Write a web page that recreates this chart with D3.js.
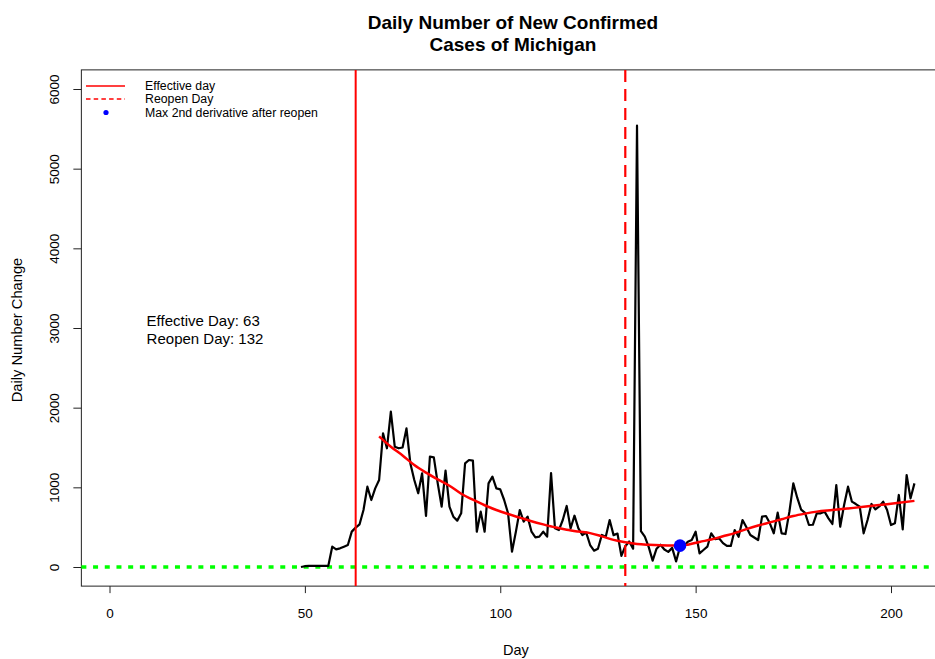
<!DOCTYPE html>
<html>
<head>
<meta charset="utf-8">
<script src="https://cdn.jsdelivr.net/npm/d3@7"></script>
<style>
  body { margin: 0; background: #fff; }
  svg { display: block; }
  text { font-family: "Liberation Sans", Arial, Helvetica, sans-serif; fill: #000; }
</style>
</head>
<body>
<svg id="chart" width="935" height="659"></svg>
<script>
// Daily new confirmed cases, Michigan, starting at day 49
const firstDay = 49;
const dailyCases = [
  0, 10, 15, 15, 15, 15, 15, 15, 255, 222,          // 49-58
  234, 255, 276, 444, 494, 536, 715, 1008, 841, 987, // 59-68
  1092, 1678, 1490, 1950, 1510, 1490, 1500, 1740, 1300, 1092, // 69-78
  925, 1176, 640, 1385, 1377, 1050, 757, 1209, 757, 632,      // 79-88
  582, 674, 1301, 1343, 1335, 443, 695, 443, 1050, 1134,      // 89-98
  987, 975, 841, 674, 192, 443, 715, 569, 632, 443,           // 99-108
  372, 381, 443, 381, 1180, 485, 464, 590, 766, 485,          // 109-118
  644, 485, 402, 431, 276, 205, 230, 402, 380, 590,           // 119-128
  400, 420, 140, 260, 320, 230, 5540, 450, 380, 250,          // 129-138
  80, 230, 280, 220, 190, 240, 70, 250, 260, 318,             // 139-148
  339, 443, 172, 213, 255, 423, 350, 360, 300, 264,           // 149-158
  264, 464, 380, 590, 498, 402, 370, 339, 632, 640,           // 159-168
  548, 423, 682, 423, 414, 695, 1050, 870, 720, 680,          // 169-178
  527, 530, 674, 674, 695, 611, 540, 1029, 506, 778,          // 179-188
  1008, 820, 790, 757, 423, 590, 791, 724, 760, 820,          // 189-198
  715, 527, 548, 904, 473, 1155, 862, 1050                    // 199-206
];

// Smoothed trend after the effective day
const fitDays   = [69, 72, 75, 78, 81, 84, 87, 90, 93, 96, 99, 102, 105, 108, 111, 114, 117, 120, 123, 126, 129, 132, 135, 138, 141, 144, 146, 148, 151, 154, 157, 160, 163, 166, 169, 172, 175, 178, 181, 185, 189, 193, 197, 201, 206];
const fitValues = [1640, 1510, 1400, 1280, 1185, 1100, 1020, 920, 845, 775, 715, 665, 620, 575, 535, 498, 468, 445, 425, 385, 340, 310, 288, 278, 272, 270, 268, 280, 315, 345, 385, 425, 475, 520, 560, 600, 640, 670, 695, 715, 735, 755, 778, 800, 830];

const effectiveDay = 63;
const reopenDay = 132;
const maxDerivDay = 146;
const maxDerivValue = 268;

const xTicks = [0, 50, 100, 150, 200];
const yTicks = [0, 1000, 2000, 3000, 4000, 5000, 6000];
const legendLabels = ["Effective day", "Reopen Day", "Max 2nd derivative after reopen"];
const titleLines = ["Daily Number of New Confirmed", "Cases of Michigan"];
const noteLines = ["Effective Day: " + effectiveDay, "Reopen Day: " + reopenDay];

const svg = d3.select("#chart");

// Axis ranges padded 4% beyond the data, like base R graphics
const xMin = 1, xMax = 206, yMin = 0, yMax = 6000;
const xPad = (xMax - xMin) * 0.04, yPad = (yMax - yMin) * 0.04;
const pxPerDay = (891 - 109.5) / 200;
const pxPerCase = (567 - 89) / 6000;
const x = d3.scaleLinear()
  .domain([xMin - xPad, xMax + xPad])
  .range([109.5 + (xMin - xPad) * pxPerDay, 109.5 + (xMax + xPad) * pxPerDay]);
const y = d3.scaleLinear()
  .domain([yMin - yPad, yMax + yPad])
  .range([567 + yPad * pxPerCase, 567 - (yMax + yPad) * pxPerCase]);

const [plotLeft, plotRight] = x.range();
const [plotBottom, plotTop] = y.range();

// Title
svg.append("text")
  .attr("text-anchor", "middle")
  .style("font-weight", "bold").style("font-size", "19px")
  .selectAll("tspan").data(titleLines).join("tspan")
  .attr("x", (plotLeft + plotRight) / 2 - 1)
  .attr("y", (d, i) => 29 + i * 22)
  .text(d => d);

// Axes
const xAxis = svg.append("g")
  .attr("transform", `translate(0,${plotBottom})`)
  .call(d3.axisBottom(x).tickValues(xTicks).tickSize(7).tickPadding(15));
const yAxis = svg.append("g")
  .attr("transform", `translate(${plotLeft},0)`)
  .call(d3.axisLeft(y).tickValues(yTicks).tickSize(8).tickFormat(d3.format("d")));
[xAxis, yAxis].forEach(g => {
  g.attr("font-family", null).attr("font-size", null);
  g.select(".domain").remove();
  g.selectAll(".tick line").attr("stroke", "#222").attr("stroke-width", 1);
  g.selectAll(".tick text").style("font-size", "13.5px").attr("fill", "#000");
});
yAxis.selectAll(".tick text")
  .attr("x", null).attr("dy", null)
  .attr("text-anchor", "middle")
  .attr("transform", "translate(-27,0) rotate(-90)")
  .attr("dy", "0.35em");

// Axis titles
svg.append("text")
  .attr("x", (plotLeft + plotRight) / 2 + 2).attr("y", 655)
  .attr("text-anchor", "middle").style("font-size", "14.5px")
  .text("Day");
svg.append("text")
  .attr("transform", `translate(22,${(plotTop + plotBottom) / 2 + 2}) rotate(-90)`)
  .attr("text-anchor", "middle").style("font-size", "14.7px")
  .text("Daily Number Change");

// Plot frame
svg.append("rect")
  .attr("x", plotLeft).attr("y", plotTop)
  .attr("width", plotRight - plotLeft).attr("height", plotBottom - plotTop)
  .attr("fill", "none").attr("stroke", "#222").attr("stroke-width", 1);

const plot = svg.append("g");

// Zero reference line
plot.append("line")
  .attr("x1", plotLeft).attr("x2", plotRight)
  .attr("y1", y(0)).attr("y2", y(0))
  .attr("stroke", "#00ff00").attr("stroke-width", 3.5)
  .attr("stroke-dasharray", "5,6.7");

// Daily cases
const caseLine = d3.line()
  .x((d, i) => x(firstDay + i))
  .y(d => y(d));
plot.append("path")
  .datum(dailyCases)
  .attr("d", caseLine)
  .attr("fill", "none").attr("stroke", "#000")
  .attr("stroke-width", 2.2).attr("stroke-linejoin", "round");

// Effective day and reopen day markers
plot.append("line")
  .attr("x1", x(effectiveDay)).attr("x2", x(effectiveDay))
  .attr("y1", plotTop).attr("y2", plotBottom)
  .attr("stroke", "#ff0000").attr("stroke-width", 2);
plot.append("line")
  .attr("x1", x(reopenDay)).attr("x2", x(reopenDay))
  .attr("y1", plotTop).attr("y2", plotBottom)
  .attr("stroke", "#ff0000").attr("stroke-width", 2.2)
  .attr("stroke-dasharray", "12,7");

// Smoothed trend
const fitLine = d3.line()
  .x((d, i) => x(fitDays[i]))
  .y(d => y(d))
  .curve(d3.curveMonotoneX);
plot.append("path")
  .datum(fitValues)
  .attr("d", fitLine)
  .attr("fill", "none").attr("stroke", "#ff0000")
  .attr("stroke-width", 2.5);

// Maximum second derivative after reopening
plot.append("circle")
  .attr("cx", x(maxDerivDay)).attr("cy", y(maxDerivValue))
  .attr("r", 6.3).attr("fill", "#0000ff");

// Summary note
svg.append("text")
  .style("font-size", "15px")
  .selectAll("tspan").data(noteLines).join("tspan")
  .attr("x", x(9.5))
  .attr("y", (d, i) => y(3000) + 2 + (i - 0.5) * 18)
  .attr("dy", "0.35em")
  .text(d => d);

// Legend
const legend = svg.append("g");
const rowY = [86, 99, 112.5];
const rows = legend.selectAll("g").data(legendLabels).join("g")
  .attr("transform", (d, i) => `translate(0,${rowY[i]})`);
rows.append("text")
  .attr("x", 145).attr("dy", "0.35em")
  .style("font-size", "12.3px")
  .text(d => d);
rows.filter((d, i) => i < 2).append("line")
  .attr("x1", 86).attr("x2", 125)
  .attr("stroke", "#ff0000").attr("stroke-width", 1.6)
  .attr("stroke-dasharray", (d, i) => i === 1 ? "4.5,3.2" : null);
rows.filter((d, i) => i === 2).append("circle")
  .attr("cx", 106).attr("r", 2.6).attr("fill", "#0000ff");
</script>
</body>
</html>
